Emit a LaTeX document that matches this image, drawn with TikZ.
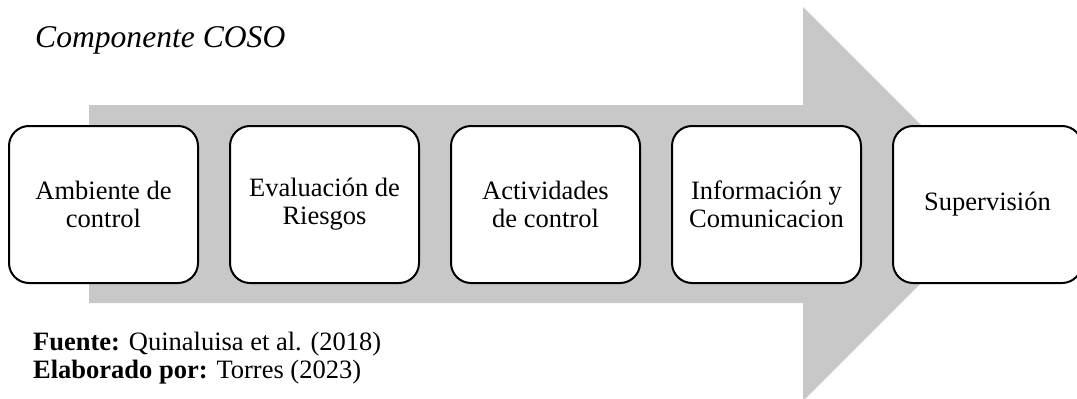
\documentclass[tikz,border=0pt]{standalone}
\usepackage{fontspec}
\setmainfont{Liberation Serif}
\definecolor{arrowgray}{RGB}{200,200,200}
\begin{document}
\begin{tikzpicture}[x=1pt,y=-1pt,
  compbox/.style={draw=black,line width=2pt,rounded corners=20pt,fill=white,
    minimum width=189pt,minimum height=157pt,inner sep=0pt,align=center,
    font=\fontsize{26.5}{28}\selectfont},
  notetext/.style={inner sep=0pt,anchor=base west,font=\fontsize{26.5}{28}\selectfont}]
\useasboundingbox (0,0) rectangle (1077,399);
\clip (0,0) rectangle (1077,399);
% big background arrow
\fill[arrowgray] (89,105) -- (803,105) -- (803,7) -- (1000,204) -- (803,401) -- (803,303) -- (89,303) -- cycle;
% title
\node[inner sep=0pt,anchor=base west,font=\fontsize{31.6}{33}\selectfont\itshape] (title) at (35,47) {Componente COSO};
% components
\node[compbox] (b1) at (103.5,204.5) {Ambiente de\\control};
\node[compbox] (b2) at (324.5,204.5) {Evaluación de\\Riesgos};
\node[compbox] (b3) at (545.5,204.5) {Actividades\\de control};
\node[compbox] (b4) at (766.5,204.5) {Información y\\Comunicacion};
\node[compbox] (b5) at (987.5,204.5) {Supervisión};
% notes
\node[notetext] (fuente) at (33,350) {\textbf{Fuente:} Quinaluisa et al. (2018)};
\node[notetext] (elab) at (33,378) {\textbf{Elaborado por:} Torres (2023)};
\end{tikzpicture}
\end{document}
